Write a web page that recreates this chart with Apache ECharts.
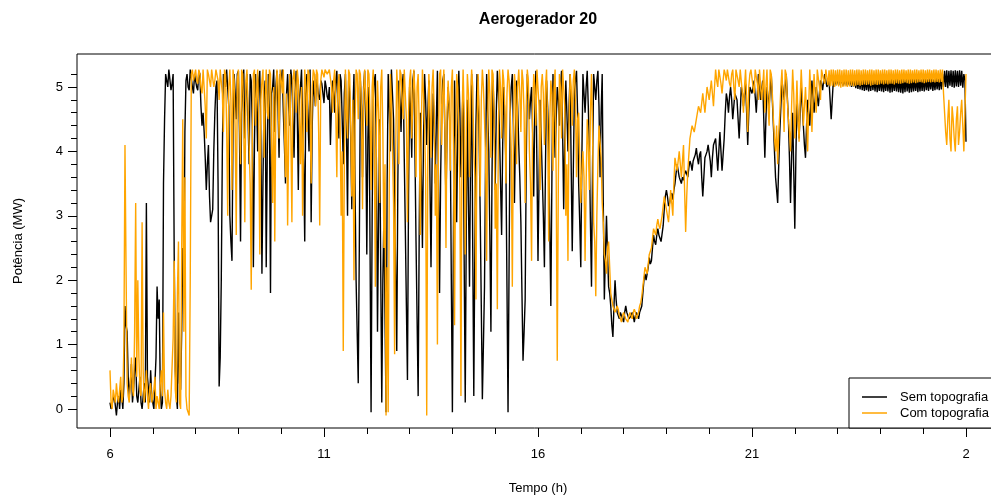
<!DOCTYPE html>
<html><head><meta charset="utf-8">
<script src="https://cdn.jsdelivr.net/npm/echarts@6/dist/echarts.min.js"></script>
<style>html,body{margin:0;padding:0;background:#fff}#c{width:991px;height:497px}</style>
</head><body><div id="c"></div>
<script>
const titleText = 'Aerogerador 20';
const xName = 'Tempo (h)';
const yName = 'Potência (MW)';
const seriesNames = ['Sem topografia', 'Com topografia'];
// samples every 0.05 h starting at 6 h ("even"), plus samples halfway between them ("mid")
const tStart = 6, tStep = 0.05;
const xMajorTicks = [6, 11, 16, 21, 26];
const xMinorTicks = [7, 8, 9, 10, 12, 13, 14, 15, 17, 18, 19, 20, 22, 23, 24, 25];
const yMajorTicks = [0, 1, 2, 3, 4, 5];
const yMinorTicks = [0.2, 0.4, 0.6, 0.8, 1.2, 1.4, 1.6, 1.8, 2.2, 2.4, 2.6, 2.8, 3.2, 3.4, 3.6, 3.8, 4.2, 4.4, 4.6, 4.8, 5.2];

const sem_06_11 = [0.1,0.0,0.2,-0.1,0.2,0.3,0.0,1.6,1.2,0.2,
0.7,0.3,0.8,0.1,0.5,0.0,0.4,3.2,0.3,0.6,
0.1,0.4,1.9,1.7,0.0,3.5,5.2,5.0,5.25,5.05,
2.4,0.2,1.5,0.3,2.5,4.3,5.2,4.95,5.25,4.9,
5.1,4.95,5.2,4.4,4.3,3.4,4.1,2.9,3.1,4.6,
5.1,0.35,2.0,5.2,5.0,5.25,3.0,2.3,5.2,4.5,
5.25,2.6,5.0,4.2,5.2,3.8,5.1,2.2,5.2,4.0,
5.25,2.1,4.8,2.2,5.2,1.8,5.0,4.3,5.25,3.9,
5.1,4.6,3.5,5.2,4.4,5.1,3.9,5.25,3.4,5.0,
4.5,2.6,5.2,4.0,2.9,5.1,4.7,5.0,4.8,5.05];
const sem_11_16 = [4.75,5.0,4.8,4.1,5.1,4.6,5.25,4.2,5.1,3.8,
5.2,3.0,4.9,3.1,5.2,2.0,0.4,5.1,3.6,5.25,
2.4,5.0,-0.05,4.8,5.2,1.2,4.5,0.1,3.0,-0.05,
5.2,4.0,5.25,3.3,0.9,5.1,4.3,5.2,2.8,0.45,
5.0,3.9,5.25,2.6,0.2,4.6,2.5,5.2,4.1,5.1,
2.2,4.9,3.5,5.25,1.8,4.7,5.2,3.2,5.0,4.2,
-0.05,5.1,2.9,5.25,3.6,5.0,0.1,4.8,1.9,5.2,
0.2,4.4,5.1,3.0,0.15,1.9,5.2,4.0,1.2,5.1,
3.4,5.25,4.3,2.7,5.0,3.8,-0.05,4.6,5.2,3.2,
5.1,4.1,2.9,0.75,1.7,5.2,4.5,5.0,3.3,5.25];
const sem_16_21 = [2.3,4.8,3.6,2.2,5.1,4.2,1.6,5.2,3.9,5.0,
4.4,5.25,3.1,5.1,4.0,5.2,2.45,4.9,5.25,3.5,
2.2,5.2,4.6,5.25,4.0,1.9,5.2,4.8,5.25,3.6,
5.2,1.7,3.0,1.9,1.6,1.12,2.0,1.5,1.4,1.5,
1.35,1.6,1.45,1.4,1.5,1.35,1.5,1.4,1.55,1.8,
2.1,2.0,2.35,2.3,2.7,2.55,2.8,2.65,2.6,3.1,
3.4,3.15,3.3,3.25,3.5,3.8,3.6,3.5,3.55,3.7,
3.6,3.85,3.7,3.9,4.05,3.8,4.0,3.3,3.9,4.0,
4.1,3.6,4.1,4.2,3.7,4.3,3.7,4.2,4.9,4.6,
5.0,4.5,4.9,4.8,4.2,5.0,4.7,5.05,4.1,5.0];
const sem_21_26 = [4.9,5.1,4.6,5.2,4.8,5.1,3.9,5.0,4.7,5.2,
4.4,3.6,3.2,4.3,5.1,4.8,5.2,4.5,3.2,4.6,
2.8,4.9,4.2,5.0,4.4,3.9,4.8,4.4,5.1,4.6,
5.0,4.7,5.1,4.95,5.2,5.0,5.1,4.5,5.1,
5.12,5.14,5.13,5.15,5.12,5.14,5.13,5.12,5.14,5.13,
5.12,5.14,5.15,5.12,5.13,5.14,5.12,5.14,5.13,5.15,
5.12,5.14,5.13,5.12,5.14,5.13,5.15,5.12,5.14,5.13,
5.12,5.14,5.13,5.15,5.12,5.14,5.13,5.12,5.14,5.13,
5.12,5.14,5.15,5.12,5.13,5.14,5.12,5.14,5.13,5.15,
5.2,
5.25,5.26,5.25,5.26,5.25,5.26,5.25,5.26,5.25,5.2,4.15];

const semMid_06_11 = [0.0,0.15,0.05,0.1,0.0,0.2,0.4,1.3,0.5,0.4,
0.1,0.6,0.2,0.3,0.1,0.2,0.1,0.5,0.1,0.2,
0.0,0.8,1.4,0.3,0.1,4.5,5.1,5.27,4.95,5.2,
0.6,0.0,0.4,1.2,1.8,5.1,5.0,5.27,5.0,5.2,
5.0,5.25,4.7,4.6,3.9,3.8,3.3,3.0,4.0,5.0,
3.5,0.8,4.0,5.1,5.27,4.7,2.6,4.4,4.9,5.2,
4.3,4.6,5.27,4.9,4.5,5.2,4.4,4.1,4.8,5.1,
4.2,3.6,5.1,4.0,4.6,4.9,5.27,5.0,4.7,5.2,
5.27,4.1,4.9,4.7,5.27,4.5,4.9,4.6,4.8,5.27,
3.8,4.9,4.5,5.27,4.4,4.9,5.2,4.85,5.1,4.9];
const semMid_11_16 = [5.1,4.85,5.0,4.7,4.9,5.1,4.6,5.2,4.5,4.9,
4.3,5.1,4.2,4.6,3.5,1.2,2.5,4.7,5.0,4.4,
4.2,2.6,3.0,5.1,3.8,3.0,2.2,2.0,1.5,3.5,
4.7,5.27,4.5,2.1,3.5,4.8,5.0,3.9,1.6,3.3,
4.6,5.1,4.0,1.4,2.8,3.6,4.2,4.8,4.6,3.6,
3.8,4.4,4.5,3.5,3.6,5.1,4.2,4.3,4.7,2.0,
2.8,4.2,4.3,4.6,4.4,2.3,2.9,3.2,4.0,2.5,
2.6,5.2,4.2,1.6,1.0,3.9,4.6,2.7,3.6,4.5,
4.6,4.9,3.5,4.1,4.5,1.9,2.3,5.0,4.4,4.3,
4.7,3.6,1.8,1.2,3.8,4.9,4.8,4.3,4.6,3.8];
const semMid_16_21 = [3.6,4.2,3.0,3.8,4.7,2.8,3.6,4.6,4.5,4.8,
5.0,4.3,4.2,4.6,4.7,3.8,3.7,5.1,4.6,2.9,
3.9,4.9,5.0,4.7,2.9,3.8,5.0,5.1,4.7,4.6,
3.2,2.4,2.4,1.8,1.3,1.6,1.7,1.45,1.5,1.4,
1.5,1.5,1.4,1.45,1.45,1.45,1.45,1.5,1.6,2.0,
2.0,2.2,2.25,2.5,2.6,2.7,2.7,2.6,2.85,3.3,
3.3,3.2,3.35,3.4,3.65,3.7,3.55,3.6,3.65,3.65,
3.75,3.8,3.85,3.95,3.9,3.95,3.6,3.6,3.95,4.1,
3.85,3.9,4.15,3.95,4.0,4.0,3.95,4.6,4.8,4.85,
4.8,4.7,4.85,4.5,4.6,4.9,4.9,4.6,4.6,4.95];
const semMid_21_26 = [5.0,4.85,4.9,5.0,4.95,4.5,4.5,4.85,4.95,4.8,
4.0,3.4,3.8,4.7,4.95,5.0,4.85,3.9,3.9,3.7,
3.9,4.5,4.6,4.7,4.1,4.4,4.6,4.75,4.85,4.8,
4.85,4.9,5.05,5.1,5.1,5.05,4.8,4.8,5.0,
5.04,5.03,5.05,5.02,5.04,5.02,5.03,5.0,5.01,4.98,
4.97,4.96,4.95,4.94,4.95,4.93,4.94,4.95,4.93,4.92,
4.94,4.93,4.92,4.94,4.93,4.91,4.92,4.94,4.93,4.92,
4.91,4.9,4.92,4.93,4.91,4.92,4.93,4.94,4.92,4.93,
4.94,4.93,4.95,4.94,4.96,4.94,4.95,4.96,4.95,4.96,
5.0,
5.0,4.98,5.02,5.0,4.99,5.01,5.0,5.02,4.99,5.1];

const com_06_11 = [0.6,0.0,0.2,0.4,0.1,0.5,0.2,4.1,0.4,0.1,
0.8,0.2,3.2,2.0,0.3,2.9,0.1,0.6,0.0,0.4,
0.1,0.5,0.2,0.0,0.6,1.5,0.1,0.3,0.0,0.2,
2.3,0.1,2.6,0.0,4.5,3.6,0.0,-0.1,5.2,5.1,
5.27,5.05,5.2,4.9,5.27,4.2,5.2,5.0,5.27,5.1,
5.25,4.8,5.27,4.3,5.2,3.0,5.27,3.4,5.1,2.7,
5.27,3.8,5.2,2.9,5.27,4.1,1.85,5.2,4.4,5.27,
2.4,5.1,3.9,5.27,4.5,5.2,3.2,2.6,5.27,4.2,
5.1,5.27,3.6,2.85,5.2,2.9,5.27,4.6,5.1,3.8,
3.0,5.27,4.3,5.2,3.5,5.27,4.7,5.2,2.85,5.27];
const com_11_16 = [5.15,5.27,5.2,5.27,4.6,5.27,3.6,5.2,3.0,0.9,
5.27,4.2,5.2,3.3,2.0,5.27,4.5,5.2,3.1,5.27,
4.4,5.2,3.4,5.27,1.9,5.1,3.2,5.27,2.5,-0.1,
-0.05,5.2,4.0,0.85,5.27,3.8,5.2,4.5,5.27,2.9,
5.1,4.2,5.27,3.6,5.2,2.7,5.27,4.4,-0.1,5.2,
3.9,5.27,3.0,1.0,5.2,4.1,5.27,2.5,5.1,3.7,
5.27,1.3,5.2,4.3,0.2,5.27,2.4,5.2,3.6,5.27,
4.0,1.7,5.2,3.3,5.27,4.5,2.3,5.27,3.9,5.2,
2.8,1.55,5.27,4.2,5.1,3.5,5.27,4.6,1.9,5.2,
3.8,5.27,4.3,5.1,3.2,5.27,4.0,2.3,5.2,4.4];
const com_16_21 = [5.27,3.4,5.2,4.1,5.27,2.6,5.1,3.7,5.27,0.75,
5.2,4.2,5.27,3.0,2.3,5.2,4.4,5.27,3.6,4.6,
3.2,4.0,2.3,4.5,3.4,5.2,2.9,1.75,3.8,4.4,
3.2,2.4,2.1,2.6,1.8,1.6,1.5,1.6,1.45,1.35,
1.5,1.4,1.35,1.5,1.4,1.55,1.4,1.5,1.65,1.9,
2.2,2.1,2.4,2.5,2.8,2.7,2.95,2.8,3.0,3.3,
3.1,2.9,3.4,3.0,3.9,3.7,4.0,3.6,4.1,2.75,
3.7,4.2,4.4,4.3,4.5,4.7,4.6,4.9,4.6,5.0,
4.8,5.1,4.7,5.27,5.0,5.27,4.9,5.27,5.1,5.27,
5.0,5.27,4.8,5.27,5.0,5.27,4.6,5.27,4.3,5.2];
const com_21_26 = [5.27,4.9,5.27,4.8,5.27,5.0,4.6,5.27,4.4,5.2,
4.5,4.0,3.8,4.6,5.27,4.3,5.2,4.5,4.0,5.27,
4.2,5.1,4.15,5.27,4.4,5.0,4.0,5.27,4.3,5.2,
4.6,5.27,4.8,5.27,5.05,
5.27,5.26,5.27,5.27,5.26,5.27,5.27,5.26,5.27,5.27,
5.26,5.27,5.27,5.26,5.27,5.27,5.26,5.27,5.27,5.26,
5.27,5.27,5.26,5.27,5.27,5.26,5.27,5.27,5.26,5.27,
5.27,5.26,5.27,5.27,5.26,5.27,5.27,5.26,5.27,5.27,
5.26,5.27,5.27,5.26,5.27,5.27,5.26,5.27,5.27,5.26,
5.27,5.27,5.26,5.27,5.27,
4.6,4.1,4.8,4.0,4.5,4.0,4.7,4.3,4.8,4.0,5.2];

const comMid_06_11 = [0.1,0.3,0.1,0.2,0.3,0.1,1.0,2.2,0.2,0.4,
0.3,1.2,0.5,0.8,0.2,0.6,0.3,0.2,0.3,0.1,
0.3,0.0,0.1,0.4,0.2,0.3,0.0,0.1,0.2,1.1,
0.3,1.8,0.1,2.5,1.2,0.2,0.0,2.0,5.27,5.1,
5.1,5.27,5.0,5.27,4.7,5.27,5.1,5.27,5.0,5.27,
5.1,5.27,4.9,5.27,4.4,5.0,4.8,5.27,4.3,5.1,
4.6,5.27,4.4,5.1,5.27,3.5,4.2,5.27,4.9,4.5,
4.8,5.27,4.8,4.6,5.27,4.1,5.0,4.7,5.1,5.27,
4.9,4.4,4.9,4.2,4.3,5.1,5.0,5.27,4.5,5.0,
4.4,5.0,5.27,4.6,5.0,5.2,5.27,4.3,5.1,5.27];
const comMid_11_16 = [5.27,5.2,5.27,5.0,5.1,4.6,5.0,4.5,4.0,3.8,
4.6,5.27,4.4,4.8,4.4,5.2,5.27,4.6,4.9,4.8,
5.27,4.6,5.0,4.1,4.4,4.6,5.0,4.3,3.8,2.2,
3.5,4.8,3.2,4.0,4.9,5.27,4.8,5.27,4.5,4.6,
5.27,4.8,4.9,5.0,4.4,4.5,4.9,3.6,3.8,4.7,
5.0,4.6,3.8,4.2,5.27,4.9,4.3,4.6,4.7,5.0,
4.1,3.9,5.0,3.4,4.5,4.6,4.3,4.9,4.8,5.0,
3.6,4.3,4.6,4.8,5.0,3.9,4.5,4.9,5.27,4.6,
3.5,4.4,5.0,5.27,4.7,4.9,5.1,4.0,4.2,5.0,
5.0,4.9,5.27,4.6,4.7,5.1,3.5,4.6,5.0,5.27];
const comMid_16_21 = [4.7,5.0,4.9,5.0,4.4,4.5,4.9,5.0,3.6,3.5,
5.0,5.27,4.7,3.8,4.4,5.0,5.1,4.8,4.5,3.9,
3.7,3.6,3.5,4.1,4.6,4.3,2.6,3.0,4.4,3.9,
2.9,2.3,2.5,2.2,1.7,1.55,1.5,1.55,1.4,1.45,
1.45,1.4,1.45,1.45,1.5,1.5,1.45,1.6,1.75,2.05,
2.15,2.25,2.45,2.65,2.75,2.85,2.85,2.9,3.15,3.2,
3.0,3.15,3.2,3.5,3.8,3.85,3.8,3.85,3.4,3.3,
3.95,4.3,4.35,4.4,4.6,4.65,4.75,4.75,4.8,4.9,
4.95,4.9,5.0,5.1,5.27,5.05,5.1,5.2,5.27,5.05,
5.2,5.0,5.27,5.1,5.27,4.9,5.0,4.8,5.0,5.27];
const comMid_21_26 = [5.0,5.27,5.05,5.27,4.8,5.27,5.0,4.7,5.27,4.9,
4.2,4.4,4.3,5.0,4.8,5.27,4.8,4.3,4.7,4.9,
4.6,4.5,4.8,4.9,4.7,4.6,4.7,4.9,4.8,4.9,
5.27,5.0,5.27,5.1,5.27,
5.03,5.01,5.02,5.0,5.02,5.01,4.99,5.0,5.01,5.0,
5.01,5.02,5.01,5.02,5.03,5.02,5.03,5.04,5.03,5.04,
5.02,5.03,5.04,5.03,5.04,5.05,5.04,5.05,5.04,5.05,
5.05,5.04,5.06,5.05,5.05,5.06,5.07,5.06,5.05,5.06,
5.07,5.06,5.07,5.08,5.07,5.06,5.07,5.08,5.07,5.08,
5.07,5.08,5.07,5.08,4.9,
4.3,4.5,4.2,4.7,4.2,4.5,4.1,4.6,4.4,4.6];

const semValues = [].concat(sem_06_11, sem_11_16, sem_16_21, sem_21_26);
const semMidValues = [].concat(semMid_06_11, semMid_11_16, semMid_16_21, semMid_21_26);
const comValues = [].concat(com_06_11, com_11_16, com_16_21, com_21_26);
const comMidValues = [].concat(comMid_06_11, comMid_11_16, comMid_16_21, comMid_21_26);

function toPairs(vals, mids) {
  const out = [];
  vals.forEach((v, i) => {
    const t = tStart + i * tStep;
    out.push([+t.toFixed(4), v]);
    if (i < mids.length) out.push([+(t + tStep / 2).toFixed(4), mids[i]]);
  });
  return out;
}

const FONT = '"Liberation Sans", Arial, Helvetica, sans-serif';
const chart = echarts.init(document.getElementById('c'), null, {renderer: 'canvas'});

const baseX = {
  type: 'value', gridIndex: 0, min: 5.229, max: 26.771, position: 'bottom',
  splitLine: {show: false}, axisLine: {show: false, onZero: false}
};
const baseY = {
  type: 'value', gridIndex: 0, min: -0.295, max: 5.512, position: 'left',
  splitLine: {show: false}, axisLine: {show: false, onZero: false}
};

chart.setOption({
  animation: false,
  backgroundColor: '#fff',
  grid: {left: 77, top: 54, right: -8, bottom: 69, show: true, borderColor: '#000', borderWidth: 1,
         backgroundColor: 'transparent', containLabel: false, outerBoundsMode: 'none'},
  graphic: [{
    type: 'text', x: 538, y: 20,
    style: {text: titleText, font: 'bold 16px ' + FONT, fill: '#000', textAlign: 'center', textVerticalAlign: 'middle'}
  }],
  legend: {
    orient: 'vertical', left: 849, top: 378,
    backgroundColor: '#fff', borderColor: '#000', borderWidth: 1,
    padding: [11, 10, 7, 13], itemGap: 0, itemWidth: 25, itemHeight: 1.5,
    icon: 'rect', selectedMode: false,
    textStyle: {fontSize: 13, fontFamily: FONT, color: '#000', lineHeight: 16, padding: [0, 0, 0, 8]},
    data: seriesNames
  },
  xAxis: [
    Object.assign({}, baseX, {
      axisTick: {show: true, length: 9, lineStyle: {color: '#000'}, customValues: xMajorTicks},
      axisLabel: {customValues: xMajorTicks, formatter: v => String(v >= 24 ? v - 24 : v), margin: 20,
        color: '#000', fontSize: 13, fontFamily: FONT},
      name: xName, nameLocation: 'middle', nameGap: 54,
      nameTextStyle: {color: '#000', fontSize: 13, fontFamily: FONT}
    }),
    Object.assign({}, baseX, {
      axisTick: {show: true, length: 6, lineStyle: {color: '#000'}, customValues: xMinorTicks},
      axisLabel: {show: false}
    })
  ],
  yAxis: [
    Object.assign({}, baseY, {
      axisTick: {show: true, length: 9, lineStyle: {color: '#000'}, customValues: yMajorTicks},
      axisLabel: {customValues: yMajorTicks, margin: 14, color: '#000', fontSize: 13, fontFamily: FONT},
      name: yName, nameLocation: 'middle', nameGap: 52,
      nameTextStyle: {color: '#000', fontSize: 13, fontFamily: FONT}
    }),
    Object.assign({}, baseY, {
      axisTick: {show: true, length: 6, lineStyle: {color: '#000'}, customValues: yMinorTicks},
      axisLabel: {show: false}
    })
  ],
  series: [
    {name: seriesNames[0], type: 'line', xAxisIndex: 0, yAxisIndex: 0, data: toPairs(semValues, semMidValues),
     showSymbol: false, symbol: 'none', color: '#000', lineStyle: {color: '#000', width: 1.4},
     emphasis: {disabled: true}, sampling: null, z: 2},
    {name: seriesNames[1], type: 'line', xAxisIndex: 0, yAxisIndex: 0, data: toPairs(comValues, comMidValues),
     showSymbol: false, symbol: 'none', color: '#FFA500', lineStyle: {color: '#FFA500', width: 1.4},
     emphasis: {disabled: true}, sampling: null, z: 3}
  ]
});
</script></body></html>
